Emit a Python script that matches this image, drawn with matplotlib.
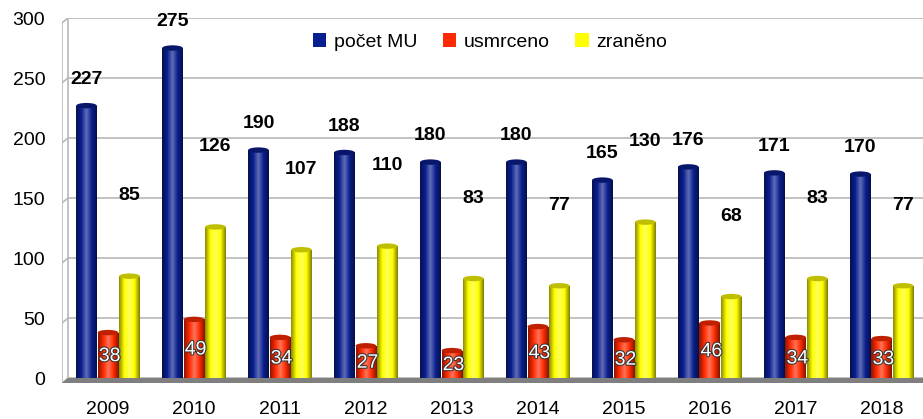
import matplotlib
matplotlib.use("Agg")
import matplotlib.pyplot as plt
import matplotlib.patches as patches
import matplotlib.patheffects as pe
from matplotlib.colors import LinearSegmentedColormap, to_rgb
import numpy as np

plt.rcParams['font.family'] = ['Liberation Sans', 'DejaVu Sans']

years = ['2009', '2010', '2011', '2012', '2013', '2014', '2015', '2016', '2017', '2018']
pocet_mu = [227, 275, 190, 188, 180, 180, 165, 176, 171, 170]
usmrceno = [38, 49, 34, 27, 23, 43, 32, 46, 34, 33]
zraneno = [85, 126, 107, 110, 83, 77, 130, 68, 83, 77]

SERIES = [('počet MU', pocet_mu, '#0a1f8f', -0.25),
          ('usmrceno', usmrceno, '#ff2a00', 0.0),
          ('zraněno', zraneno, '#ffff00', 0.25)]
BAR_W = 0.24
GRID_C = '#b8b8b8'


def shade_cmap(color):
    c = np.array(to_rgb(color))
    dark = c * 0.55
    light = c + (1 - c) * 0.35
    return LinearSegmentedColormap.from_list('s', [dark, c, light, c, dark * 0.9], N=256)


fig = plt.figure(figsize=(9.23, 4.19), dpi=100)
ax = fig.add_axes([62 / 923, 36 / 419, (923 - 62) / 923, (383 - 18) / 419])
x = np.arange(len(years))
xl, xr = -0.535, 9.48
wall = -0.465

# back wall grid and left wall
for v in range(0, 301, 50):
    ax.plot([wall, xr], [v, v], color=GRID_C, lw=1.2, zorder=1)
    ax.plot([xl, wall], [v - 4, v], color=GRID_C, lw=1.2, zorder=1)
ax.plot([wall, wall], [0, 300], color=GRID_C, lw=1.2, zorder=1)
ax.plot([xl, xl], [-4, 296], color=GRID_C, lw=1.2, zorder=1)
# floor
ax.add_patch(patches.Polygon([[xl, -4], [xr, -4], [xr, 0], [wall, 0]], closed=True,
                             facecolor='#7f7f7f', edgecolor='none', zorder=2))

grad = np.linspace(0, 1, 64).reshape(1, -1)
for label, vals, color, off in SERIES:
    cmap = shade_cmap(color)
    bars = ax.bar(x + off, vals, width=BAR_W, color=color, label=label, zorder=3)
    for b, v in zip(bars, vals):
        x0 = b.get_x()
        im = ax.imshow(grad, cmap=cmap, extent=[x0, x0 + BAR_W, -1, v], aspect='auto', zorder=4)
        im.set_clip_path(b)
        ax.add_patch(patches.Ellipse((x0 + BAR_W / 2, v), BAR_W, 4.5,
                                     facecolor=np.array(to_rgb(color)) * 0.75,
                                     edgecolor='none', zorder=5))

# value labels
for i in x:
    ax.text(i - 0.25, pocet_mu[i] + 22, str(pocet_mu[i]), ha='center', va='center',
            fontsize=14, fontweight='bold', zorder=6)
    ax.text(i + 0.25, zraneno[i] + 67, str(zraneno[i]), ha='center', va='center',
            fontsize=14, fontweight='bold', zorder=6)
    ax.text(i + 0.02, usmrceno[i] / 2 - 1, str(usmrceno[i]), ha='center', va='center',
            fontsize=14, color='white', zorder=6,
            path_effects=[pe.withStroke(linewidth=1.5, foreground='#333333')])

ax.set_xlim(xl, xr)
ax.set_ylim(-4, 300)
ax.set_yticks(range(0, 301, 50))
ax.set_xticks(x)
ax.set_xticklabels(years)
ax.tick_params(axis='both', length=0, labelsize=14)
ax.tick_params(axis='y', pad=12)
ax.tick_params(axis='x', pad=13)
for s in ax.spines.values():
    s.set_visible(False)

handles, labels = ax.get_legend_handles_labels()
fig.legend(handles, labels, loc='center', bbox_to_anchor=(0.531, 0.9), ncol=3, frameon=False,
           fontsize=14, handlelength=0.7, handleheight=0.7, handletextpad=0.4, columnspacing=1.3)

fig.savefig('out.png', dpi=100)
